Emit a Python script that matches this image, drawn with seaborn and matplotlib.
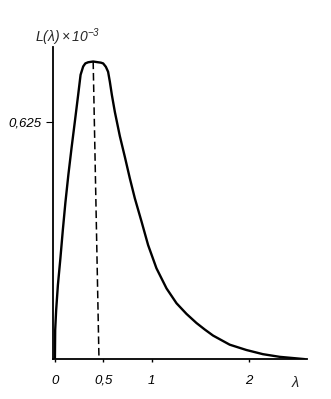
import matplotlib
matplotlib.use("Agg")
import matplotlib.pyplot as plt
import seaborn as sns
import pandas as pd

# wavelength (lambda) and L(lambda) x 1e-3
lam = [0.0, 0.003, 0.013, 0.031, 0.057, 0.082, 0.108, 0.139, 0.172, 0.206,
       0.240, 0.265, 0.292, 0.314, 0.343, 0.395, 0.446, 0.474, 0.498, 0.526,
       0.549, 0.567, 0.588, 0.619, 0.670, 0.722, 0.773, 0.825, 0.894, 0.962,
       1.048, 1.152, 1.255, 1.358, 1.461, 1.546, 1.632, 1.804, 1.976, 2.147,
       2.320, 2.492, 2.577]
L = [0.0, 0.078, 0.130, 0.196, 0.267, 0.341, 0.412, 0.486, 0.557, 0.626,
     0.696, 0.749, 0.771, 0.779, 0.782, 0.784, 0.782, 0.781, 0.779, 0.770,
     0.757, 0.731, 0.696, 0.651, 0.588, 0.533, 0.477, 0.424, 0.363, 0.301,
     0.240, 0.187, 0.148, 0.120, 0.096, 0.079, 0.063, 0.039, 0.025, 0.014,
     0.007, 0.003, 0.001]

x_ticks = [0, 0.5, 1, 2]
x_tick_labels = ["0", "0,5", "1", "2"]
y_ticks = [0.625]
y_tick_labels = ["0,625"]
drop_x = [0.395, 0.455]
drop_y = [0.784, 0.0]

sns.set_style("ticks")
plt.rcParams['font.family'] = ['Liberation Sans', 'DejaVu Sans']
plt.rcParams['font.style'] = 'italic'
plt.rcParams['mathtext.fontset'] = 'custom'
plt.rcParams['mathtext.rm'] = 'Liberation Sans:italic'
plt.rcParams['mathtext.it'] = 'Liberation Sans:italic'

fig = plt.figure(figsize=(3.31, 3.99), dpi=100)
ax = fig.add_axes([0.160, 0.099, 0.767, 0.784])

df = pd.DataFrame({"lam": lam, "L": L})
sns.lineplot(data=df, x="lam", y="L", ax=ax, color="black", linewidth=1.7,
             sort=False)
line = ax.lines[0]
line.set_solid_joinstyle("round")
line.set_solid_capstyle("round")
ax.plot(drop_x, drop_y, color="black", linewidth=1.1,
        linestyle=(0, (5, 2.5)))

ax.set_xlim(-0.02, 2.6)
ax.set_ylim(0, 0.823)
ax.set_xticks(x_ticks)
ax.set_xticklabels(x_tick_labels, fontsize=9.5, style='italic')
ax.set_yticks(y_ticks)
ax.set_yticklabels(y_tick_labels, fontsize=9.5, style='italic')
ax.tick_params(axis='x', length=2, width=1, pad=9, colors='black')
ax.tick_params(axis='y', length=5, width=0.8, pad=3, colors='black')
ax.set_xlabel("")
ax.set_ylabel("")
sns.despine(ax=ax)
for s in ("left", "bottom"):
    ax.spines[s].set_linewidth(1.3)
    ax.spines[s].set_color("black")

ax.annotate("λ", xy=(2.48, 0), xycoords=("data", "axes fraction"),
            xytext=(0, -12), textcoords="offset points", ha="center",
            va="top", fontsize=10.5, style='italic')
fig.text(35 / 331, 1 - 42 / 399, r"$L(\lambda)\times10^{-3}$", ha="left",
         va="baseline", fontsize=10)

fig.savefig("out.png", dpi=100)
